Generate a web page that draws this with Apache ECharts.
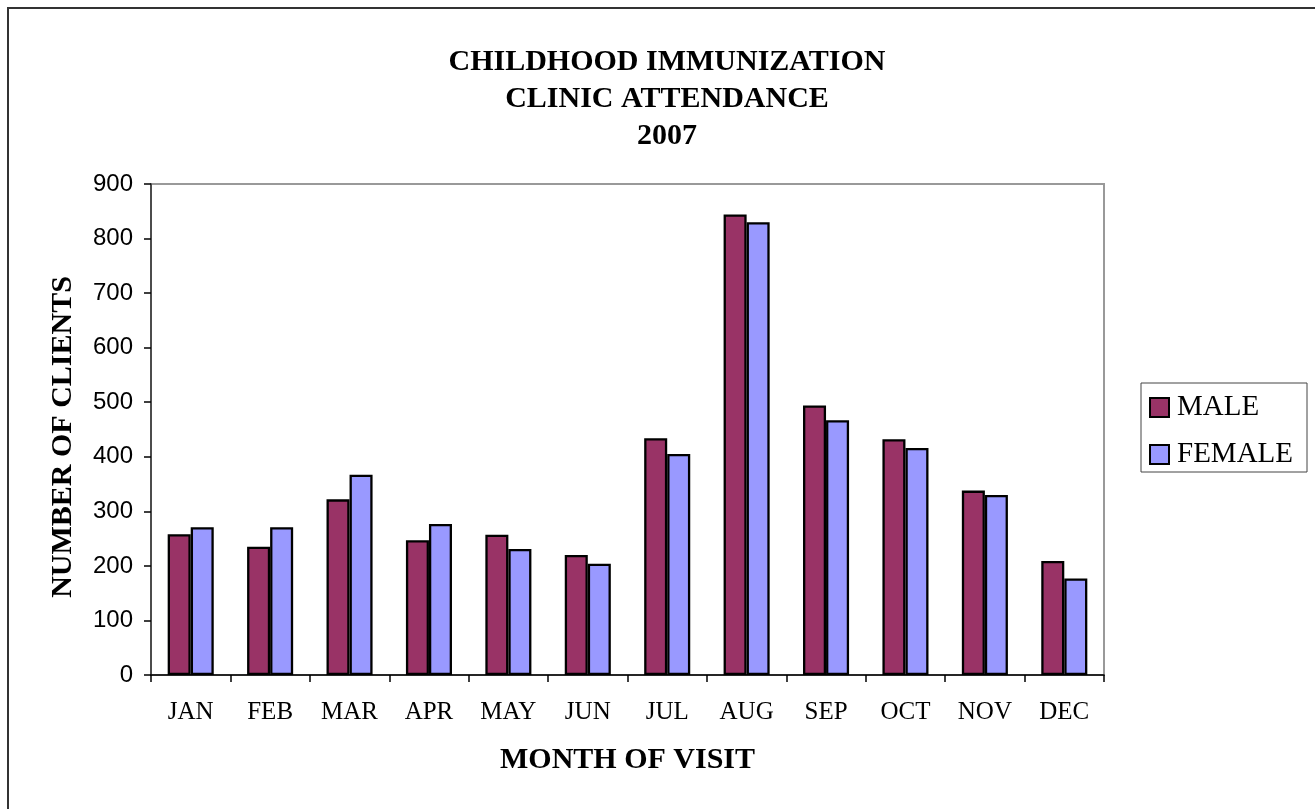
<!DOCTYPE html>
<html>
<head>
<meta charset="utf-8">
<style>html,body{margin:0;padding:0;background:#fff;}#c{width:1315px;height:809px;}</style>
<script src="https://cdn.jsdelivr.net/npm/echarts@6/dist/echarts.min.js"></script>
</head>
<body>
<div id="c"></div>
<script>
const months = ['JAN','FEB','MAR','APR','MAY','JUN','JUL','AUG','SEP','OCT','NOV','DEC'];
const male   = [258, 235, 322, 247, 257, 220, 434, 844, 494, 432, 338, 209];
const female = [271, 271, 367, 277, 231, 204, 405, 830, 467, 416, 330, 177];
const yTicks = [0, 100, 200, 300, 400, 500, 600, 700, 800, 900];

const chart = echarts.init(document.getElementById('c'));
const serif = 'Liberation Serif, Times New Roman, serif';
const sans = 'Liberation Sans, Arial, sans-serif';
chart.setOption({
  animation: false,
  backgroundColor: '#fff',
  title: {
    text: 'CHILDHOOD IMMUNIZATION\nCLINIC ATTENDANCE\n2007',
    left: 662, top: 39, textAlign: 'center',
    textStyle: { fontFamily: serif, fontWeight: 'bold', fontSize: 30, lineHeight: 37, color: '#000' }
  },
  graphic: [{
    type: 'rect', silent: true, z: -1,
    shape: { x: 8, y: 8, width: 1400, height: 900 },
    style: { fill: 'none', stroke: '#333', lineWidth: 2 }
  }, {
    type: 'text', silent: true,
    x: 63, y: 437, rotation: Math.PI / 2,
    style: {
      text: 'NUMBER OF CLIENTS', fill: '#000',
      font: 'bold 30px ' + serif, textAlign: 'center', textVerticalAlign: 'middle'
    }
  }],
  legend: {
    orient: 'vertical', left: 1141, top: 383,
    padding: [10, 14, 3, 8], itemGap: 18,
    itemWidth: 19, itemHeight: 19,
    borderColor: '#444', borderWidth: 1,
    icon: 'rect',
    textStyle: { fontFamily: serif, fontSize: 29, color: '#000', lineHeight: 26, padding: [0, 0, 0, 3] },
    data: ['MALE', 'FEMALE']
  },
  grid: {
    left: 151, right: 211, top: 184, bottom: 134,
    show: true, borderColor: '#999', borderWidth: 2, backgroundColor: 'transparent'
  },
  xAxis: {
    type: 'category', data: months,
    name: 'MONTH OF VISIT', nameLocation: 'middle', nameGap: 70,
    nameTextStyle: { fontFamily: serif, fontWeight: 'bold', fontSize: 30, color: '#000' },
    axisLine: { lineStyle: { color: '#000', width: 1.5 } },
    axisTick: { show: true, length: 7, inside: false, lineStyle: { color: '#000', width: 1.5 } },
    axisLabel: { fontFamily: serif, fontSize: 25, color: '#000', margin: 25 }
  },
  yAxis: {
    type: 'value', min: 0, max: 900, interval: 100,
    axisLine: { show: true, lineStyle: { color: '#333', width: 1.5 } },
    axisTick: { show: true, length: 7, lineStyle: { color: '#000', width: 1.5 } },
    splitLine: { show: false },
    axisLabel: {
      fontFamily: sans, fontSize: 24, color: '#000', margin: 18,
      formatter: v => yTicks.includes(v) ? String(v) : ''
    }
  },
  series: [
    { name: 'MALE', type: 'bar', data: male, barGap: '0%', barCategoryGap: '42%',
      itemStyle: { color: '#993366', borderColor: '#000', borderWidth: 2.3 } },
    { name: 'FEMALE', type: 'bar', data: female, barGap: '0%', barCategoryGap: '42%',
      itemStyle: { color: '#9999FF', borderColor: '#000', borderWidth: 2.3 } }
  ]
});
</script>
</body>
</html>
